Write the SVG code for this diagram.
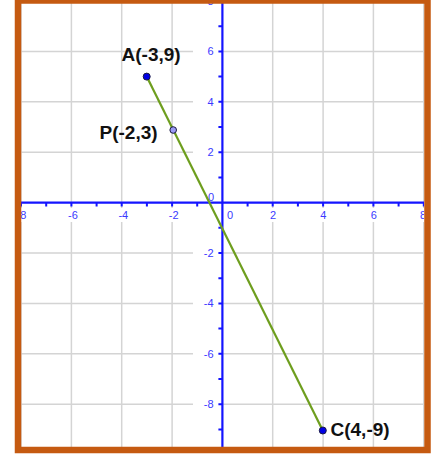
<svg xmlns="http://www.w3.org/2000/svg" width="431" height="457" viewBox="0 0 431 457">
<style>
.grid{stroke:#D4D4D4;stroke-width:1.5;fill:none}
.axis{stroke:#1414FF;stroke-width:2.2;fill:none}
.tick{stroke:#1414FF;stroke-width:2;fill:none}
.al{font-family:"Liberation Sans",Arial,sans-serif;font-size:11px;fill:#3A3AFF}
.ax{text-anchor:middle}
.ay{text-anchor:end}
.lbl{font-family:"Liberation Sans",Arial,sans-serif;font-size:19px;font-weight:bold;fill:#111}
.seg{stroke:#6E9E1E;stroke-width:2.2;fill:none}
.pt{stroke:#1a1a40;stroke-width:1}
</style>
<defs>
<clipPath id="plot"><rect x="21" y="3" width="403" height="444"/></clipPath>
</defs>
<rect x="0" y="0" width="431" height="457" fill="#fff"/>
<g clip-path="url(#plot)">
<g id="grid">
<path class="grid" d="M21,0V208M21,222V457 M71.4,0V208M71.4,222V457 M121.7,0V208M121.7,222V457 M172.1,0V208M172.1,222V457 M272.7,0V208M272.7,222V457 M323.1,0V208M323.1,222V457 M373.4,0V208M373.4,222V457 M423.8,0V208M423.8,222V457"/>
<path class="grid" d="M0,51.4H193M222,51.4H431 M0,101.8H193M222,101.8H431 M0,152.2H193M222,152.2H431 M0,253H193M222,253H431 M0,303.4H193M222,303.4H431 M0,353.8H193M222,353.8H431 M0,404.2H193M222,404.2H431"/>
</g>
<g id="axes">
<path class="axis" d="M0,202.6H431 M222.4,0V457"/>
<path class="tick" d="M21,202.6v4 M46.2,202.6v4 M71.4,202.6v4 M96.6,202.6v4 M121.7,202.6v4 M146.9,202.6v4 M172.1,202.6v4 M197.2,202.6v4 M247.6,202.6v4 M272.7,202.6v4 M297.9,202.6v4 M323.1,202.6v4 M348.3,202.6v4 M373.4,202.6v4 M398.6,202.6v4 M423.8,202.6v4"/>
<path class="tick" d="M222.4,1h-4 M222.4,26.2h-4 M222.4,51.4h-4 M222.4,76.6h-4 M222.4,101.8h-4 M222.4,127h-4 M222.4,152.2h-4 M222.4,177.4h-4 M222.4,227.8h-4 M222.4,253h-4 M222.4,278.2h-4 M222.4,303.4h-4 M222.4,328.6h-4 M222.4,353.8h-4 M222.4,379h-4 M222.4,404.2h-4 M222.4,429.4h-4"/>
<text class="al ax" x="21.5" y="218.5">-8</text>
<text class="al ax" x="73" y="218.5">-6</text>
<text class="al ax" x="123.3" y="218.5">-4</text>
<text class="al ax" x="173.7" y="218.5">-2</text>
<text class="al ax" x="230" y="218.5">0</text>
<text class="al ax" x="273" y="218.5">2</text>
<text class="al ax" x="323.4" y="218.5">4</text>
<text class="al ax" x="373.7" y="218.5">6</text>
<text class="al ax" x="423" y="218.5">8</text>
<text class="al ay" x="213.5" y="5">8</text>
<text class="al ay" x="213.5" y="55.4">6</text>
<text class="al ay" x="213.5" y="105.8">4</text>
<text class="al ay" x="213.5" y="156.2">2</text>
<text class="al ay" x="214" y="200.5">0</text>
<text class="al ay" x="213.5" y="257">-2</text>
<text class="al ay" x="213.5" y="307.4">-4</text>
<text class="al ay" x="213.5" y="357.8">-6</text>
<text class="al ay" x="213.5" y="408.2">-8</text>
</g>
<g id="connectors">
<line class="seg" x1="146.7" y1="76.6" x2="322.8" y2="430.5"/>
</g>
<g id="A">
<circle class="pt" cx="146.7" cy="76.6" r="3.5" fill="#0000E6"/>
<text class="lbl" x="121.5" y="60.5">A(-3,9)</text>
</g>
<g id="P">
<circle class="pt" cx="173.2" cy="130" r="3.3" fill="#9A9AF5"/>
<text class="lbl" x="99.5" y="138.5">P(-2,3)</text>
</g>
<g id="C">
<circle class="pt" cx="322.8" cy="430.5" r="3.5" fill="#0000E6"/>
<text class="lbl" x="330.5" y="435.5">C(4,-9)</text>
</g>
</g>
<rect x="18" y="0.5" width="409.5" height="449.5" fill="none" stroke="#C55A11" stroke-width="6.5"/>
</svg>
